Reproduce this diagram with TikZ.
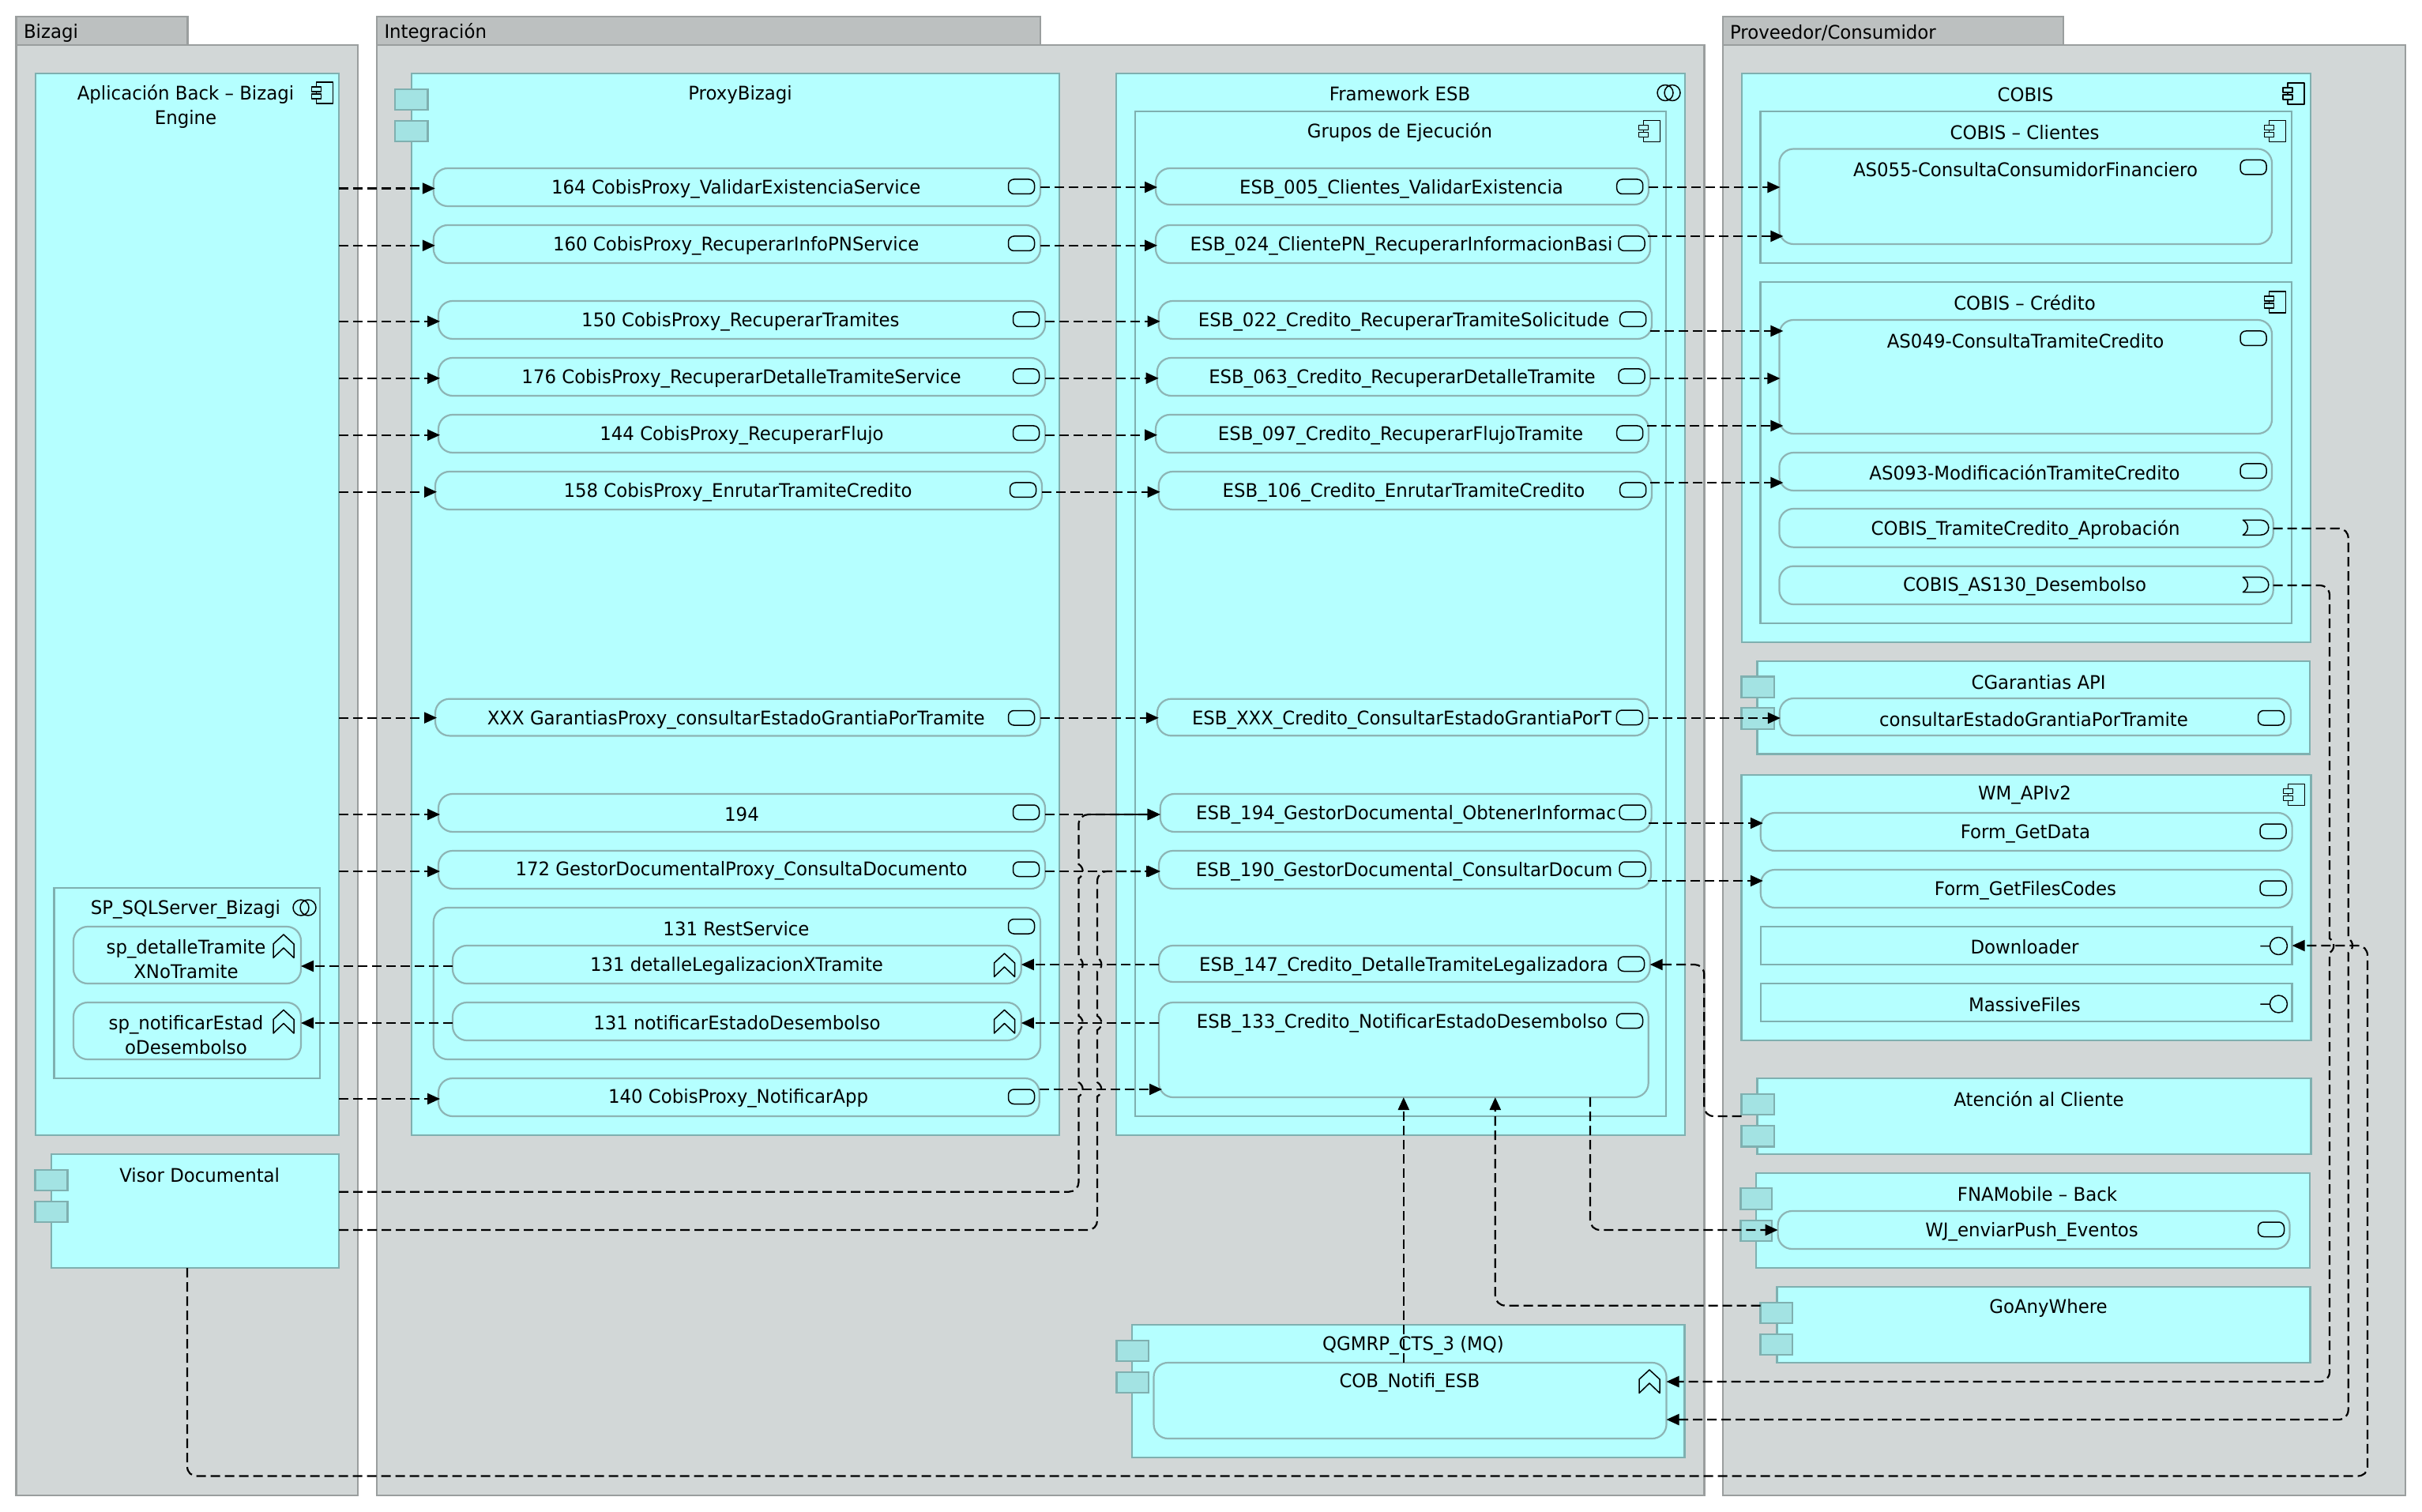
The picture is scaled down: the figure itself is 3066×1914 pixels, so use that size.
\documentclass[tikz,border=0pt]{standalone}
\usepackage{fontspec}
\setmainfont{DejaVu Sans}[FakeStretch=0.96]
\usetikzlibrary{arrows.meta,calc}
\definecolor{layerfill}{HTML}{D2D7D7}
\definecolor{layertab}{HTML}{BCC0C0}
\definecolor{layerline}{HTML}{9A9E9E}
\definecolor{cyanfill}{HTML}{B5FFFF}
\definecolor{cyanline}{HTML}{7FB0B0}
\definecolor{svcline}{HTML}{8DB4B4}
\definecolor{portfill}{HTML}{A3E3E3}
\tikzset{
 layerbody/.style={draw=layerline,fill=layerfill,line width=1.4pt},
 layertabs/.style={draw=layerline,fill=layertab,line width=1.4pt},
 appbox/.style={draw=cyanline,fill=cyanfill,line width=1.3pt},
 svcbox/.style={draw=svcline,fill=cyanfill,line width=1.1pt,rounded corners=9pt},
 portbox/.style={draw=cyanline,fill=portfill,line width=1.3pt},
 txt/.style={inner sep=0pt,outer sep=0pt,align=center,yshift=-0.8pt,font=\fontsize{11.9}{15.5}\selectfont,text=black},
 ltxt/.style={txt,anchor=west},
 icon/.style={draw=black,line width=0.75pt,fill=none,line join=round},
 conn/.style={draw=black,line width=1.1pt,dash pattern=on 6pt off 3pt},
 tip/.style={-{Triangle[length=8pt,width=7pt,fill=black]}},
}
% style,name,x0,y0,x1,y1
\newcommand{\bx}[6]{%
 \pgfmathsetmacro\wid{(#5-#3)*0.5}\pgfmathsetmacro\hei{(#6-#4)*0.5}%
 \node[#1,minimum width=\wid pt,minimum height=\hei pt,anchor=north west,inner sep=0pt,outer sep=0pt] (#2) at (#3,#4) {};}
% style,name,x0,y0,x1,y1,tx,ty,text
\newcommand{\bxt}[9]{\bx{#1}{#2}{#3}{#4}{#5}{#6}\node[txt] (#2-t) at (#7,#8) {#9};}
% service icon x0,y0
\newcommand{\svc}[2]{\draw[icon,rounded corners=3.5pt] (#1,#2) rectangle ++(33,18.5);}
\newcommand{\comp}[2]{%
 \draw[icon] (#1+6,#2) rectangle (#1+27,#2+27);
 \draw[icon,fill=cyanfill] (#1,#2+6) rectangle (#1+12,#2+12);
 \draw[icon,fill=cyanfill] (#1,#2+15) rectangle (#1+12,#2+21);}
\newcommand{\chev}[2]{\draw[icon] (#1,#2+12) -- (#1+13,#2) -- (#1+26,#2+12) -- (#1+26,#2+29.5) -- (#1+13,#2+17) -- (#1,#2+29.5) -- cycle;}
\newcommand{\colab}[2]{\draw[icon] (#1+10,#2+10) circle[radius=10] (#1+19,#2+10) circle[radius=10];}
\newcommand{\evt}[2]{\draw[icon] (#1,#2) -- (#1+22,#2) .. controls (#1+36,#2) and (#1+36,#2+19) .. (#1+22,#2+19) -- (#1,#2+19) .. controls (#1+8,#2+14) and (#1+8,#2+5) .. (#1,#2) -- cycle;}
\newcommand{\iface}[2]{\draw[icon] (#1-23,#2) -- (#1-11,#2) (#1,#2) circle[radius=11];}
% connector: a,b,y,dxa,dxb
\newcommand{\hc}[5]{\draw[conn,tip] ($(#1 |- 0,#3)+(#4,0)$) -- ($(#2 |- 0,#3)+(#5,0)$);}
\begin{document}
\begin{tikzpicture}[x=0.5pt,y=-0.5pt]
\useasboundingbox (0,0) rectangle (3066,1914);
% layers
\bx{layertabs}{tabA}{20.5}{21}{237.5}{57}
\bx{layerbody}{layA}{20.5}{57}{453}{1893}
\node[ltxt] (tabA-t) at (30,40) {Bizagi};
\bx{layertabs}{tabB}{477}{21}{1317}{57}
\bx{layerbody}{layB}{477}{57}{2157.5}{1893}
\node[ltxt] (tabB-t) at (486.5,40) {Integración};
\bx{layertabs}{tabC}{2181}{21}{2612}{57}
\bx{layerbody}{layC}{2181}{57}{3045}{1893}
\node[ltxt] (tabC-t) at (2190,40) {Proveedor/Consumidor};
% Bizagi
\bxt{appbox}{aplic}{45}{93}{429}{1437}{235}{133}{Aplicación Back – Bizagi\\Engine}
\comp{394.5}{104}
\bxt{appbox}{spsql}{68.5}{1124}{405}{1365}{235}{1150}{SP\_SQLServer\_Bizagi}
\colab{371}{1139}
\bxt{svcbox}{spd}{93}{1173}{381}{1245}{235.5}{1213}{sp\_detalleTramite\\XNoTramite}
\chev{346}{1183}
\bxt{svcbox}{spn}{93}{1269}{381}{1341}{235.5}{1308.5}{sp\_notificarEstad\\oDesembolso}
\chev{346}{1278.5}
\bxt{appbox}{visor}{65}{1461}{429}{1605}{252.7}{1485.7}{Visor Documental}
\bx{portbox}{visorpa}{44.6}{1481}{85.7}{1507}
\bx{portbox}{visorpb}{44.6}{1521}{85.7}{1547}
% Proxy
\bxt{appbox}{proxy}{521}{93}{1341}{1437}{937}{118}{ProxyBizagi}
\bx{portbox}{proxypa}{500}{113}{541.5}{139}
\bx{portbox}{proxypb}{500}{153}{541.5}{179}
\bxt{svcbox}{p164}{548.8}{213}{1317}{261}{931.7}{237.7}{164 CobisProxy\_ValidarExistenciaService}
\svc{1276.5}{227}
\bxt{svcbox}{p160}{548.8}{285}{1317}{333}{931.7}{309.6}{160 CobisProxy\_RecuperarInfoPNService}
\svc{1276.5}{299}
\bxt{svcbox}{p150}{555}{381}{1323}{429}{937.4}{406}{150 CobisProxy\_RecuperarTramites}
\svc{1282.5}{395}
\bxt{svcbox}{p176}{555}{453}{1323}{501}{938.6}{478}{176 CobisProxy\_RecuperarDetalleTramiteService}
\svc{1282.5}{467}
\bxt{svcbox}{p144}{555}{525}{1323}{573}{939}{550}{144 CobisProxy\_RecuperarFlujo}
\svc{1282.5}{539}
\bxt{svcbox}{p158}{551}{597}{1319}{645}{934}{622}{158 CobisProxy\_EnrutarTramiteCredito}
\svc{1278.5}{611}
\bxt{svcbox}{pxxx}{551}{884.7}{1317}{931.4}{931.7}{909.6}{XXX GarantiasProxy\_consultarEstadoGrantiaPorTramite}
\svc{1276.5}{899.5}
\bxt{svcbox}{p194}{555}{1005}{1323}{1053}{939}{1029}{194}
\svc{1282.5}{1019}
\bxt{svcbox}{p172}{555}{1077}{1323}{1125}{938.6}{1101}{172 GestorDocumentalProxy\_ConsultaDocumento}
\svc{1282.5}{1091}
\bxt{svcbox}{rest}{548.8}{1149}{1317}{1341}{932}{1173.6}{131 RestService}
\svc{1276.5}{1163.5}
\bxt{svcbox}{r131a}{573}{1197}{1292.8}{1245}{932.5}{1221}{131 detalleLegalizacionXTramite}
\chev{1258.5}{1207}
\bxt{svcbox}{r131b}{573}{1269}{1292.8}{1317}{933}{1293}{131 notificarEstadoDesembolso}
\chev{1258.5}{1278.5}
\bxt{svcbox}{p140}{555}{1365}{1315.7}{1413}{934.6}{1389}{140 CobisProxy\_NotificarApp}
\svc{1276.5}{1379}
% Framework ESB
\bxt{appbox}{frame}{1413}{93}{2133}{1437}{1772}{117.5}{Framework ESB}
\colab{2098}{107.5}
\bxt{appbox}{grupos}{1437}{141}{2109}{1413}{1772}{165.7}{Grupos de Ejecución}
\comp{2074.5}{152.7}
\bxt{svcbox}{e005}{1463}{213}{2087}{259}{1774}{237.7}{ESB\_005\_Clientes\_ValidarExistencia}
\svc{2046.7}{227}
\bxt{svcbox}{e024}{1463}{285}{2089}{333}{1774}{309.6}{ESB\_024\_ClientePN\_RecuperarInformacionBasi}
\svc{2049}{299}
\bxt{svcbox}{e022}{1466.7}{381}{2091}{429}{1777}{406}{ESB\_022\_Credito\_RecuperarTramiteSolicitude}
\svc{2050.7}{395}
\bxt{svcbox}{e063}{1464.7}{453}{2089}{501}{1775}{478}{ESB\_063\_Credito\_RecuperarDetalleTramite}
\svc{2049}{467}
\bxt{svcbox}{e097}{1463}{525}{2087}{573}{1773}{550}{ESB\_097\_Credito\_RecuperarFlujoTramite}
\svc{2046.7}{539}
\bxt{svcbox}{e106}{1466.7}{597}{2091}{645}{1777}{622}{ESB\_106\_Credito\_EnrutarTramiteCredito}
\svc{2050.7}{611}
\bxt{svcbox}{exxx}{1464.8}{884.7}{2087}{931.3}{1774.5}{909.3}{ESB\_XXX\_Credito\_ConsultarEstadoGrantiaPorT}
\svc{2046.4}{899}
\bxt{svcbox}{e194}{1468.7}{1005}{2090.6}{1053}{1780}{1030}{ESB\_194\_GestorDocumental\_ObtenerInformac}
\svc{2050}{1019}
\bxt{svcbox}{e190}{1467}{1077}{2090}{1125}{1777.6}{1102}{ESB\_190\_GestorDocumental\_ConsultarDocum}
\svc{2050}{1091}
\bxt{svcbox}{e147}{1467}{1197}{2088.7}{1243}{1777}{1221.7}{ESB\_147\_Credito\_DetalleTramiteLegalizadora}
\svc{2048.5}{1211}
\bxt{svcbox}{e133}{1467}{1269}{2086.7}{1389}{1775}{1294}{ESB\_133\_Credito\_NotificarEstadoDesembolso}
\svc{2046.5}{1283}
% QGMRP
\bxt{appbox}{qg}{1433}{1677}{2132.4}{1845}{1789}{1701.7}{QGMRP\_CTS\_3 (MQ)}
\bx{portbox}{qgpa}{1413.5}{1697}{1454}{1723}
\bx{portbox}{qgpb}{1413.5}{1737}{1454}{1763}
\bxt{svcbox}{cob}{1460.5}{1725}{2109.5}{1821}{1784.4}{1749}{COB\_Notifi\_ESB}
\chev{2075}{1734}
% COBIS
\bxt{appbox}{cobis}{2205}{93}{2925}{813}{2564}{118}{COBIS}
\comp{2890}{105}
\bxt{appbox}{cobcl}{2228.6}{141}{2901}{333}{2563}{166}{COBIS – Clientes}
\comp{2866.5}{152.7}
\bxt{svcbox}{as055}{2252.4}{188.5}{2876}{309}{2564}{213.4}{AS055-ConsultaConsumidorFinanciero}
\svc{2836}{202.5}
\bxt{appbox}{cobcr}{2228.6}{357}{2901}{789}{2563}{382}{COBIS – Crédito}
\comp{2866.5}{369}
\bxt{svcbox}{as049}{2252.4}{405}{2876}{549}{2564}{430}{AS049-ConsultaTramiteCredito}
\svc{2836}{419}
\bxt{svcbox}{as093}{2252.4}{573}{2876}{621}{2563}{597}{AS093-ModificaciónTramiteCredito}
\svc{2836}{587}
\bxt{svcbox}{ctr}{2252.4}{644}{2877.7}{692.7}{2564}{669.6}{COBIS\_TramiteCredito\_Aprobación}
\evt{2839.3}{658.3}
\bxt{svcbox}{cas}{2252.4}{716.7}{2877.7}{765}{2563}{741}{COBIS\_AS130\_Desembolso}
\evt{2839.3}{730.7}
% CGarantias
\bxt{appbox}{cgar}{2224.5}{837}{2924}{954.7}{2580.6}{862}{CGarantias API}
\bx{portbox}{cgarpa}{2204.7}{856.5}{2246}{883}
\bx{portbox}{cgarpb}{2204.7}{896}{2246}{923}
\bxt{svcbox}{cons}{2252.8}{884}{2900}{931}{2574.4}{909.5}{consultarEstadoGrantiaPorTramite}
\svc{2858.5}{899.5}
% WM
\bxt{appbox}{wm}{2204.7}{981}{2925.6}{1317}{2563}{1005}{WM\_APIv2}
\comp{2890.5}{992.5}
\bxt{svcbox}{fgd}{2228.8}{1029}{2901.6}{1077}{2564}{1053.4}{Form\_GetData}
\svc{2861}{1043}
\bxt{svcbox}{fgf}{2228.8}{1101}{2901.6}{1149}{2564}{1125.6}{Form\_GetFilesCodes}
\svc{2861}{1115}
\bxt{appbox}{dl}{2228.8}{1173}{2901.6}{1221}{2563}{1197}{Downloader}
\iface{2884.4}{1197.5}
\bxt{appbox}{mf}{2228.8}{1245}{2901.6}{1293}{2563}{1270}{MassiveFiles}
\iface{2884.4}{1271}
% Atencion
\bxt{appbox}{aten}{2224.5}{1365}{2925.6}{1461}{2581}{1390}{Atención al Cliente}
\bx{portbox}{atenpa}{2204.7}{1385}{2246}{1411}
\bx{portbox}{atenpb}{2204.7}{1425}{2246}{1451.4}
% FNA
\bxt{appbox}{fna}{2223}{1485}{2924}{1605}{2579}{1510}{FNAMobile – Back}
\bx{portbox}{fnapa}{2203.6}{1504}{2243}{1531}
\bx{portbox}{fnapb}{2203.6}{1545}{2243}{1571}
\bxt{svcbox}{wj}{2250.6}{1533}{2898.5}{1581}{2572}{1558}{WJ\_enviarPush\_Eventos}
\svc{2858.5}{1547}
% GoAnyWhere
\bxt{appbox}{goany}{2249.5}{1629}{2924.7}{1725}{2593}{1654}{GoAnyWhere}
\bx{portbox}{gopa}{2228.7}{1649}{2269}{1675}
\bx{portbox}{gopb}{2228.7}{1689}{2269}{1715}
% connectors: Aplicación -> Proxy
\hc{aplic.east}{p164.west}{238.5}{0}{2}
\hc{aplic.east}{p160.west}{310.8}{0}{2}
\hc{aplic.east}{p150.west}{406.8}{0}{2}
\hc{aplic.east}{p176.west}{478.8}{0}{2}
\hc{aplic.east}{p144.west}{550.7}{0}{2}
\hc{aplic.east}{p158.west}{622.7}{0}{2}
\hc{aplic.east}{pxxx.west}{908.6}{0}{2}
\hc{aplic.east}{p194.west}{1031}{0}{2}
\hc{aplic.east}{p172.west}{1103}{0}{2}
\hc{aplic.east}{p140.west}{1391}{0}{2}
% Proxy -> ESB
\hc{p164.east}{e005.west}{237}{0}{2}
\hc{p160.east}{e024.west}{310.8}{0}{2}
\hc{p150.east}{e022.west}{406.8}{0}{2}
\hc{p176.east}{e063.west}{478.8}{0}{2}
\hc{p144.east}{e097.west}{550.7}{0}{2}
\hc{p158.east}{e106.west}{622.7}{0}{2}
\hc{pxxx.east}{exxx.west}{908.7}{0}{2}
\hc{p194.east}{e194.west}{1031}{0}{0}
\hc{p172.east}{e190.west}{1103}{0}{2}
\hc{p140.east}{e133.west}{1379}{0}{4}
% ESB -> right
\hc{e005.east}{as055.west}{237}{0}{1}
\hc{e024.east}{as055.west}{299}{-3}{5}
\hc{e022.east}{as049.west}{419}{-2}{5}
\hc{e063.east}{as049.west}{479}{0}{1}
\hc{e097.east}{as049.west}{539}{-2}{5}
\hc{e106.east}{as093.west}{611}{-2}{5}
\hc{exxx.east}{cons.west}{909}{0}{1}
\hc{e194.east}{fgd.west}{1042}{-4}{3}
\hc{e190.east}{fgf.west}{1115}{-4}{3}
% ESB/Rest -> SP
\hc{e147.west}{r131a.east}{1221}{0}{0}
\hc{e133.west}{r131b.east}{1295}{0}{0}
\hc{r131a.west}{spd.east}{1223}{0}{0}
\hc{r131b.west}{spn.east}{1295}{0}{0}
% Visor -> ESB 194
\draw[conn,tip] (visor.east |- 0,1508.7) -- (1353,1508.7) .. controls (1360,1508.7) and (1365.4,1503) .. (1365.4,1497)
 -- (1365.4,1388) .. controls (1372.4,1384) and (1372.4,1374) .. (1365.4,1370)
 -- (1365.4,1304) .. controls (1372.4,1300) and (1372.4,1290) .. (1365.4,1286)
 -- (1365.4,1230) .. controls (1372.4,1226) and (1372.4,1216) .. (1365.4,1212)
 -- (1365.4,1112) .. controls (1372.4,1108) and (1372.4,1098) .. (1365.4,1094)
 -- (1365.4,1044) .. controls (1365.4,1036) and (1371,1031) .. (1378,1031) -- (e194.west |- 0,1031);
% Visor -> ESB 190
\draw[conn,tip] (visor.east |- 0,1557) -- (1377,1557) .. controls (1384,1557) and (1389,1552) .. (1389,1545)
 -- (1389,1388) .. controls (1396,1384) and (1396,1374) .. (1389,1370)
 -- (1389,1304) .. controls (1396,1300) and (1396,1290) .. (1389,1286)
 -- (1389,1230) .. controls (1396,1226) and (1396,1216) .. (1389,1212)
 -- (1389,1116) .. controls (1389,1108) and (1394,1103) .. (1402,1103) -- (e190.west |- 0,1103);
% Atención -> ESB 147
\draw[conn,tip] (atenpa.west |- 0,1413) -- (2170,1413) .. controls (2162,1413) and (2157.3,1408) .. (2157.3,1400)
 -- (2157.3,1234) .. controls (2157.3,1226) and (2152,1221) .. (2145,1221) -- (e147.east |- 0,1221);
% to ESB 133
\draw[conn,tip] (1776.8,0 |- cob.north) -- (1776.8,0 |- e133.south);
\draw[conn,tip] (gopa.west |- 0,1652.7) -- (1906,1652.7) .. controls (1898,1652.7) and (1892.8,1647) .. (1892.8,1640) -- (1892.8,0 |- e133.south);
\draw[conn,tip] (2013,0 |- e133.south) -- (2013,1544) .. controls (2013,1552) and (2018,1557) .. (2026,1557) -- (wj.west |- 0,1557);
% COBIS -> COB
\draw[conn,tip] (ctr.east |- 0,669) -- (2960,669) .. controls (2968,669) and (2972.7,674) .. (2972.7,682)
 -- (2972.7,1188) .. controls (2979.7,1192) and (2979.7,1202) .. (2972.7,1206)
 -- (2972.7,1784) .. controls (2972.7,1792) and (2968,1797) .. (2960,1797) -- (cob.east |- 0,1797);
\draw[conn,tip] (cas.east |- 0,741) -- (2936,741) .. controls (2944,741) and (2949,746) .. (2949,754)
 -- (2949,1188) .. controls (2956,1192) and (2956,1202) .. (2949,1206)
 -- (2949,1736) .. controls (2949,1744) and (2944,1749) .. (2936,1749) -- (cob.east |- 0,1749);
% Visor -> Downloader
\draw[conn,tip] (237,0 |- visor.south) -- (237,1856) .. controls (237,1864) and (242,1868.5) .. (250,1868.5)
 -- (2984,1868.5) .. controls (2992,1868.5) and (2997,1864) .. (2997,1856)
 -- (2997,1210) .. controls (2997,1202) and (2992,1197) .. (2984,1197) -- (dl.east |- 0,1197);
\end{tikzpicture}
\end{document}
